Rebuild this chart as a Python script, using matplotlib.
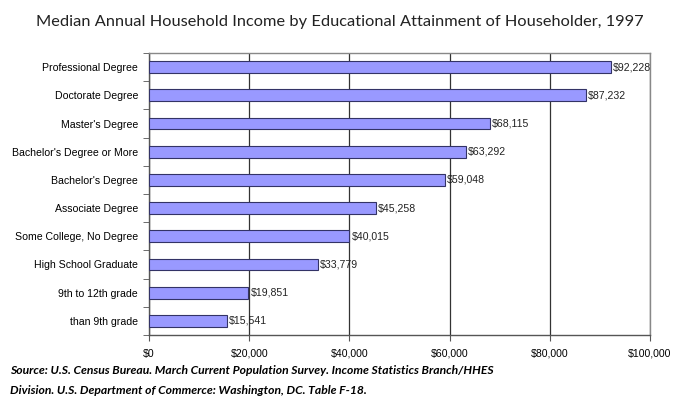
import numpy as np
import matplotlib.pyplot as plt
from matplotlib.ticker import FixedLocator

categories = ["Professional Degree", "Doctorate Degree", "Master's Degree",
              "Bachelor's Degree or More", "Bachelor's Degree", "Associate Degree",
              "Some College, No Degree", "High School Graduate",
              "9th to 12th grade", "than 9th grade"]
incomes = [92228, 87232, 68115, 63292, 59048, 45258, 40015, 33779, 19851, 15541]
xticks = [0, 20000, 40000, 60000, 80000, 100000]

fig = plt.figure(figsize=(6.79, 3.98), dpi=100)
ax = fig.add_axes([149/679, 1 - 335/398, (650-149)/679, (335-53)/398])

y = np.arange(len(categories))[::-1]
ax.barh(y, incomes, height=0.42, color='#9999ff', edgecolor='#333366', linewidth=0.8, zorder=3)

for yi, v in zip(y, incomes):
    ax.text(v + 400, yi, '${:,}'.format(v), va='center', ha='left',
            fontsize=7.6, family='Liberation Sans', color='#222222', zorder=4)

ax.set_xlim(0, 100000)
ax.set_ylim(-0.5, len(categories) - 0.5)
ax.set_xticks(xticks)
ax.set_xticklabels(['${:,}'.format(t) for t in xticks], fontsize=7.6, family='Liberation Sans')
ax.set_yticks(y)
ax.set_yticklabels(categories, fontsize=7.6, family='Liberation Sans')
ax.tick_params(axis='y', length=0, pad=8)
ax.tick_params(axis='x', length=4, color='#555555', pad=6)
ax.yaxis.set_minor_locator(FixedLocator(np.arange(-0.5, len(categories), 1.0)))
ax.tick_params(axis='y', which='minor', length=4, color='#555555')
ax.grid(axis='x', color='#333333', linewidth=0.9, zorder=0)
for s in ax.spines.values():
    s.set_color('#888888')
    s.set_linewidth(1.0)
ax.spines['left'].set_color('#555555')
ax.spines['bottom'].set_color('#555555')

fig.text(0.5, 1 - 22/398, "Median Annual Household Income by Educational Attainment of Householder, 1997",
         ha='center', va='center', fontsize=11.8, family='Lato', color='#222222')
fig.text(10/679, 1 - 370/398, "Source: U.S. Census Bureau. March Current Population Survey. Income Statistics Branch/HHES",
         ha='left', va='center', fontsize=8.7, family='Lato', fontweight='bold', fontstyle='italic')
fig.text(10/679, 1 - 390/398, "Division. U.S. Department of Commerce: Washington, DC. Table F-18.",
         ha='left', va='center', fontsize=8.7, family='Lato', fontweight='bold', fontstyle='italic')

fig.savefig('out.png', dpi=100)
